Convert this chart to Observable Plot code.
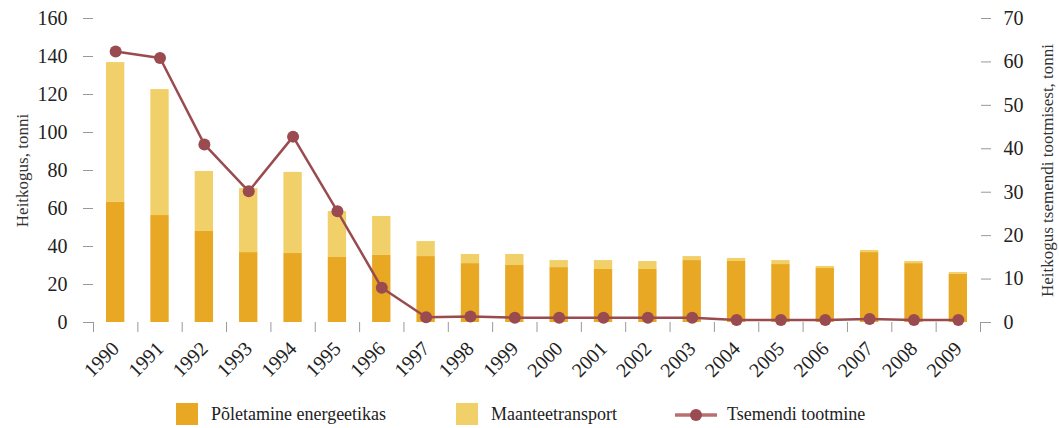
<!DOCTYPE html>
<html>
<head>
<meta charset="utf-8">
<script src="https://cdn.jsdelivr.net/npm/d3@7"></script>
<script src="https://cdn.jsdelivr.net/npm/@observablehq/plot@0.6"></script>
<style>
  html, body { margin: 0; padding: 0; background: #fff; }
  #wrap { position: relative; width: 1059px; height: 428px; font-family: "Liberation Serif", serif; color: #222; }
  .lg { position: absolute; font-size: 18px; line-height: 22px; white-space: nowrap; }
  .sw { position: absolute; width: 22px; height: 22px; }
</style>
</head>
<body>
<div id="wrap"></div>
<script>
const years = [1990,1991,1992,1993,1994,1995,1996,1997,1998,1999,2000,2001,2002,2003,2004,2005,2006,2007,2008,2009];
const energy = [63.2,56.3,47.9,36.8,36.3,34.2,35.3,34.7,31.0,30.0,28.9,27.9,27.9,32.6,32.1,30.5,28.4,36.8,31.0,25.3];
const road = [73.6,66.3,31.6,33.7,42.7,24.2,20.5,7.9,4.8,5.8,3.7,4.7,4.2,2.1,1.6,2.1,1.1,1.1,1.1,1.0];
const cement = [62.4,60.9,41.0,30.2,42.8,25.6,8.0,1.2,1.4,1.1,1.1,1.1,1.1,1.1,0.6,0.6,0.6,0.8,0.6,0.6];
const leftTicks = [0,20,40,60,80,100,120,140,160];
const rightTicks = [0,10,20,30,40,50,60,70];
const seriesNames = ["Põletamine energeetikas", "Maanteetransport", "Tsemendi tootmine"];
const leftTitle = "Heitkogus, tonni";
const rightTitle = "Heitkogus tsemendi tootmisest, tonni";

const FF = "Liberation Serif";
const cEnergy = "#E9A823", cRoad = "#F2D069", cLine = "#9A4B4F", cTick = "#999";
const k = 160 / 70;
const rows = years.map((y, i) => ({year: y, energy: energy[i], road: road[i], cement: cement[i]}));
const bounds = years.map(y => y - 0.5).concat([years[years.length - 1] + 0.5]);

const chart = Plot.plot({
  width: 1059,
  height: 395,
  marginLeft: 93,
  marginRight: 79,
  marginTop: 18,
  marginBottom: 73,
  style: {fontFamily: FF, color: "#222", background: "#fff"},
  x: {type: "linear", domain: [1989.5, 2009.5], axis: null},
  y: {domain: [0, 160], axis: null},
  marks: [
    Plot.rectY(rows, {x1: d => d.year - 0.5, x2: d => d.year + 0.5, y1: () => 0, y2: "energy", fill: cEnergy, insetLeft: 13, insetRight: 13}),
    Plot.rectY(rows, {x1: d => d.year - 0.5, x2: d => d.year + 0.5, y1: "energy", y2: d => d.energy + d.road, fill: cRoad, insetLeft: 13, insetRight: 13}),
    Plot.axisY({ticks: leftTicks, tickSize: 10, tickPadding: 16, stroke: cTick, fill: "#222", fontSize: 20, fontFamily: FF, label: null}),
    Plot.axisY({anchor: "right", ticks: rightTicks.map(v => v * k), tickFormat: d => String(Math.round(d / k)), tickSize: 10, tickPadding: 13, stroke: cTick, fill: "#222", fontSize: 20, fontFamily: FF, label: null}),
    Plot.axisX({ticks: bounds, tickSize: 10, tickFormat: () => "", stroke: cTick, label: null}),
    Plot.text(years, {x: d => d, y: () => 0, text: d => String(d), rotate: -45, dx: -14, dy: 37, fontSize: 20, fontFamily: FF, fill: "#222", textAnchor: "middle", lineAnchor: "middle"}),
    Plot.line(rows, {x: "year", y: d => d.cement * k, stroke: cLine, strokeWidth: 2.5}),
    Plot.dot(rows, {x: "year", y: d => d.cement * k, r: 6, fill: cLine, stroke: "none"}),
    Plot.text([leftTitle], {frameAnchor: "left", dx: -71, rotate: -90, textAnchor: "middle", fontSize: 17, fontFamily: FF, fill: "#333", text: d => d}),
    Plot.text([rightTitle], {frameAnchor: "right", dx: 67, rotate: -90, textAnchor: "middle", fontSize: 17, fontFamily: FF, fill: "#333", text: d => d})
  ]
});

const wrap = document.getElementById("wrap");
chart.style.position = "absolute";
chart.style.left = "0px";
chart.style.top = "0px";
wrap.appendChild(chart);

function addSwatch(x, color) {
  const s = document.createElement("div");
  s.className = "sw";
  s.style.left = x + "px"; s.style.top = "403px"; s.style.background = color;
  wrap.appendChild(s);
}
function addLabel(x, txt) {
  const t = document.createElement("div");
  t.className = "lg";
  t.style.left = x + "px"; t.style.top = "403px";
  t.textContent = txt;
  wrap.appendChild(t);
}
addSwatch(176, cEnergy); addLabel(211, seriesNames[0]);
addSwatch(456, cRoad); addLabel(491, seriesNames[1]);
const ls = document.createElementNS("http://www.w3.org/2000/svg", "svg");
ls.setAttribute("width", 44); ls.setAttribute("height", 22);
ls.style.position = "absolute"; ls.style.left = "674px"; ls.style.top = "404px";
ls.innerHTML = `<line x1="1" x2="43" y1="11" y2="11" stroke="#B86F72" stroke-width="3.5"/><circle cx="22" cy="11" r="6" fill="${cLine}"/>`;
wrap.appendChild(ls);
addLabel(727, seriesNames[2]);
</script>
</body>
</html>
